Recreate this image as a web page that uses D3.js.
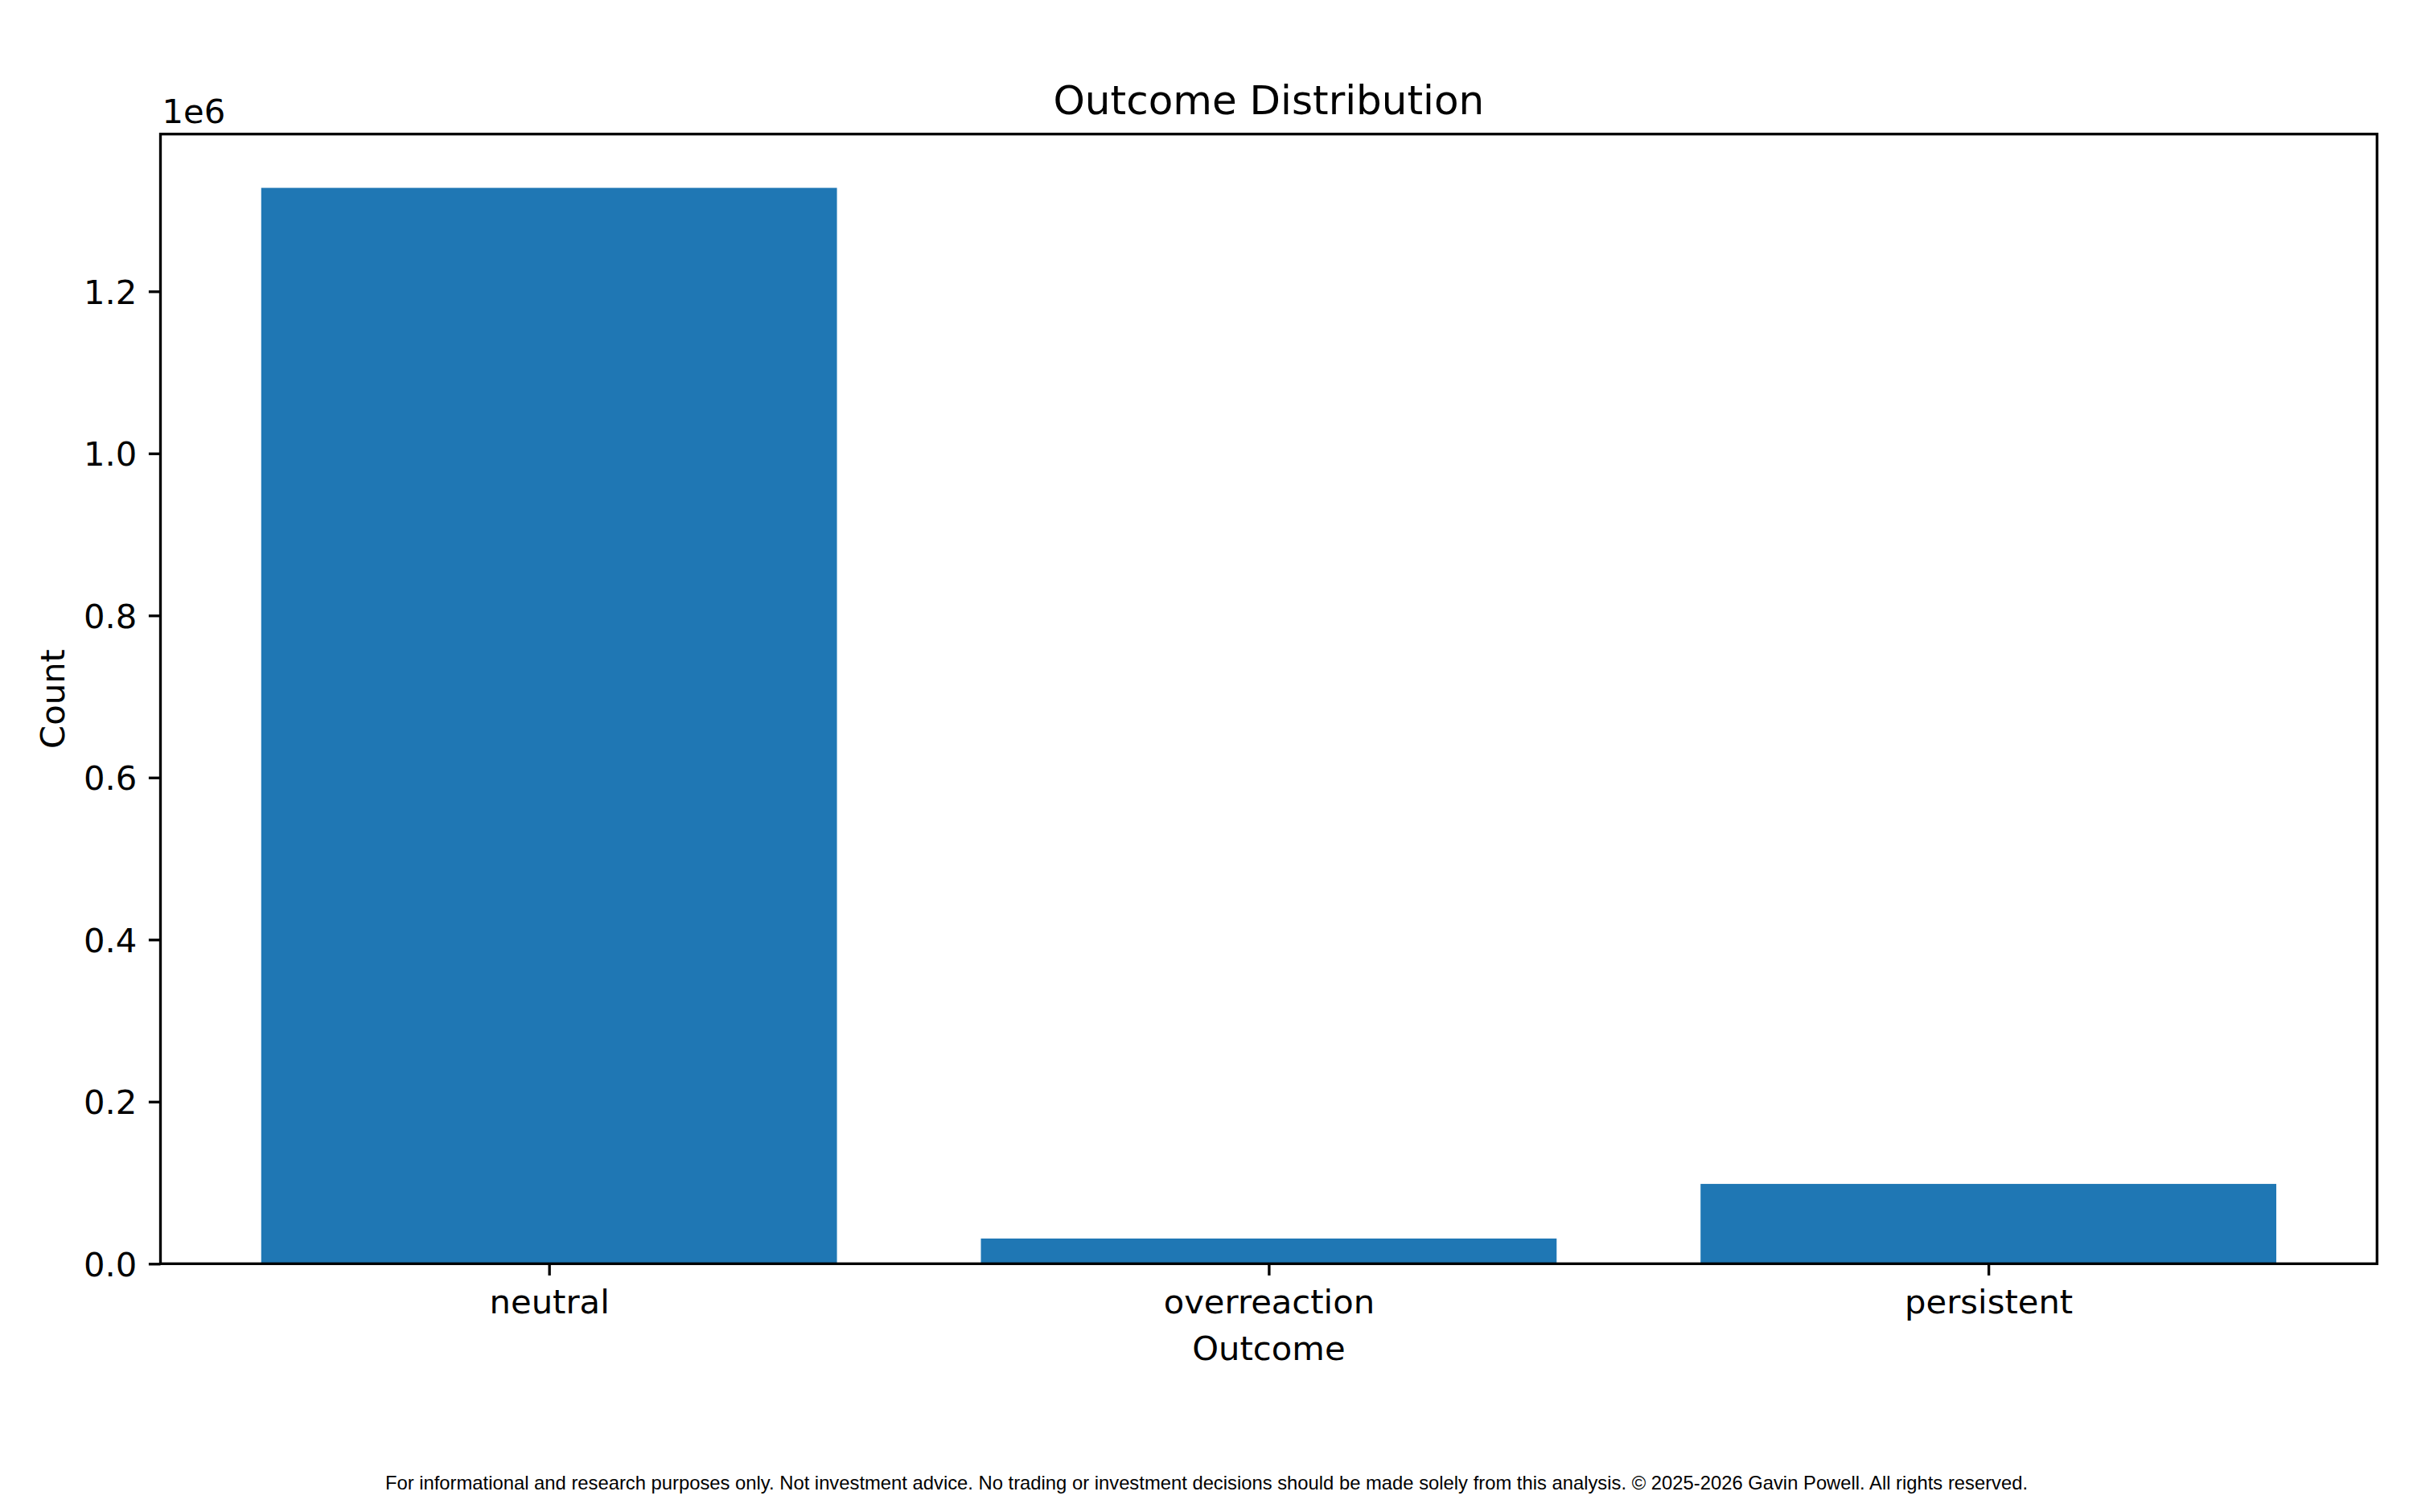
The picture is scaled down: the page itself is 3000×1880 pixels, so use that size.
<!DOCTYPE html>
<html>
<head>
<meta charset="utf-8">
<script src="https://cdn.jsdelivr.net/npm/d3@7"></script>
<style>
  html, body { margin: 0; padding: 0; background: #fff; }
  svg { display: block; }
</style>
</head>
<body>
<svg id="chart" width="3000" height="1880"></svg>
<script>
// ---- data ----
const categories = ["neutral", "overreaction", "persistent"];
const counts = [1327700, 31100, 98500];
const yTicks = [0, 0.2e6, 0.4e6, 0.6e6, 0.8e6, 1.0e6, 1.2e6];
const yTickLabels = ["0.0", "0.2", "0.4", "0.6", "0.8", "1.0", "1.2"];
const titleText = "Outcome Distribution";
const xLabelText = "Outcome";
const yLabelText = "Count";
const offsetText = "1e6";
const footerText = "For informational and research purposes only. Not investment advice. No trading or investment decisions should be made solely from this analysis. \u00A9 2025-2026 Gavin Powell. All rights reserved.";

// ---- layout ----
const W = 3000, H = 1880;
const plot = { left: 199.5, right: 2955.3, top: 166.7, bottom: 1571.3 };
const lw = 3.33;
const tickLen = 14.6;
const font = "'DejaVu Sans', sans-serif";
const barColor = "#1f77b4";

const svg = d3.select("#chart");
svg.append("rect").attr("width", W).attr("height", H).attr("fill", "#fff");

// x: linear scale over category index, matplotlib-like margins
const n = categories.length;
const barW = 0.8;
const xMin = -barW / 2, xMax = (n - 1) + barW / 2;
const pad = (xMax - xMin) * 0.05;
const x = d3.scaleLinear().domain([xMin - pad, xMax + pad]).range([plot.left, plot.right]);
const y = d3.scaleLinear().domain([0, d3.max(counts) * 1.05]).range([plot.bottom, plot.top]);

// bars
svg.append("g").selectAll("rect").data(categories).join("rect")
  .attr("x", (d, i) => x(i - barW / 2))
  .attr("width", (d, i) => x(i + barW / 2) - x(i - barW / 2))
  .attr("y", (d, i) => y(counts[i]))
  .attr("height", (d, i) => y(0) - y(counts[i]))
  .attr("fill", barColor);

// y axis
const yAxis = d3.axisLeft(y)
  .tickValues(yTicks)
  .tickFormat((d, i) => yTickLabels[i])
  .tickSize(tickLen)
  .tickPadding(14.6);
const gy = svg.append("g").attr("transform", `translate(${plot.left},0)`).call(yAxis);
gy.select(".domain").remove();
gy.selectAll(".tick line").attr("stroke", "#000").attr("stroke-width", lw);
gy.selectAll(".tick text").attr("fill", "#000")
  .style("font-family", font).style("font-size", "41.7px").attr("dy", "0.36em");

// x axis
const xAxis = d3.axisBottom(x)
  .tickValues(categories.map((d, i) => i))
  .tickFormat(i => categories[i])
  .tickSize(tickLen)
  .tickPadding(14.6);
const gx = svg.append("g").attr("transform", `translate(0,${plot.bottom})`).call(xAxis);
gx.select(".domain").remove();
gx.selectAll(".tick line").attr("stroke", "#000").attr("stroke-width", lw);
gx.selectAll(".tick text").attr("fill", "#000")
  .style("font-family", font).style("font-size", "41.7px").attr("dy", "0.78em");

// spines
svg.append("rect")
  .attr("x", plot.left).attr("y", plot.top)
  .attr("width", plot.right - plot.left).attr("height", plot.bottom - plot.top)
  .attr("fill", "none").attr("stroke", "#000").attr("stroke-width", lw)
  .attr("stroke-linejoin", "miter");

// title
svg.append("text")
  .attr("x", (plot.left + plot.right) / 2).attr("y", 142)
  .attr("text-anchor", "middle")
  .style("font-family", font).style("font-size", "50px")
  .text(titleText);

// offset text
svg.append("text")
  .attr("x", plot.left + 2).attr("y", 153)
  .style("font-family", font).style("font-size", "41.7px")
  .text(offsetText);

// x label
svg.append("text")
  .attr("x", (plot.left + plot.right) / 2).attr("y", 1691)
  .attr("text-anchor", "middle")
  .style("font-family", font).style("font-size", "41.7px")
  .text(xLabelText);

// y label
svg.append("text")
  .attr("transform", `translate(80,${(plot.top + plot.bottom) / 2}) rotate(-90)`)
  .attr("text-anchor", "middle")
  .style("font-family", font).style("font-size", "41.7px")
  .text(yLabelText);

// footer
svg.append("text")
  .attr("x", W / 2).attr("y", 1852)
  .attr("text-anchor", "middle")
  .style("font-family", "'Liberation Sans', Arial, sans-serif").style("font-size", "23.8px")
  .text(footerText);
</script>
</body>
</html>
